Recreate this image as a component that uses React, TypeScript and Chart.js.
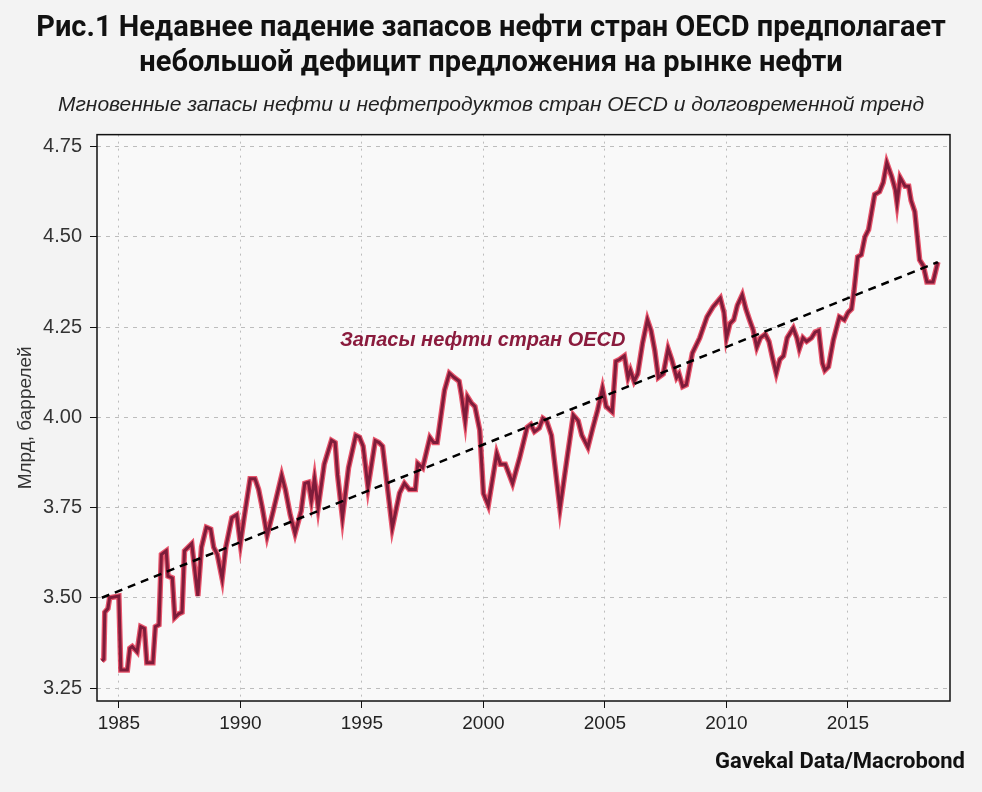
import React, { useEffect, useRef } from "react";
import { Chart, registerables } from "chart.js";

Chart.register(...registerables);

const titleLines = [
  "Рис.1 Недавнее падение запасов нефти стран OECD предполагает",
  "небольшой дефицит предложения на рынке нефти",
];
const subtitleText =
  "Мгновенные запасы нефти и нефтепродуктов стран OECD и долговременной тренд";
const yAxisTitle = "Млрд, баррелей";
const seriesLabel = "Запасы нефти стран OECD";
const sourceText = "Gavekal Data/Macrobond";

// OECD commercial oil stocks, bn barrels
const years = [
  1984.3, 1984.38, 1984.42, 1984.55, 1984.62, 1985.0, 1985.08, 1985.35, 1985.45, 1985.55,
  1985.75, 1985.9, 1986.05, 1986.15, 1986.4, 1986.5, 1986.65, 1986.75, 1986.95, 1987.02,
  1987.2, 1987.3, 1987.45, 1987.6, 1987.7, 1988.0, 1988.1, 1988.25, 1988.4, 1988.6,
  1988.78, 1988.9, 1989.05, 1989.25, 1989.4, 1989.65, 1989.85, 1990.0, 1990.15, 1990.4,
  1990.6, 1990.75, 1990.9, 1991.1, 1991.35, 1991.7, 1991.85, 1992.05, 1992.25, 1992.5,
  1992.65, 1992.8, 1992.92, 1993.05, 1993.2, 1993.45, 1993.75, 1993.9, 1994.0, 1994.2,
  1994.45, 1994.75, 1994.9, 1995.05, 1995.25, 1995.55, 1995.7, 1995.85, 1996.25, 1996.55,
  1996.75, 1996.95, 1997.2, 1997.3, 1997.5, 1997.8, 1997.95, 1998.1, 1998.4, 1998.6,
  1998.8, 1999.0, 1999.1, 1999.25, 1999.35, 1999.5, 1999.65, 1999.85, 2000.0, 2000.2,
  2000.55, 2000.7, 2000.9, 2001.2, 2001.5, 2001.8, 2001.95, 2002.1, 2002.3, 2002.45,
  2002.6, 2002.8, 2003.15, 2003.45, 2003.7, 2003.9, 2004.05, 2004.3, 2004.5, 2004.7,
  2004.9, 2005.05, 2005.3, 2005.45, 2005.6, 2005.8, 2005.95, 2006.05, 2006.2, 2006.35,
  2006.55, 2006.75, 2006.9, 2007.05, 2007.2, 2007.4, 2007.6, 2007.75, 2007.95, 2008.05,
  2008.2, 2008.35, 2008.6, 2008.9, 2009.2, 2009.45, 2009.75, 2009.9, 2010.0, 2010.15,
  2010.3, 2010.45, 2010.65, 2010.8, 2010.95, 2011.1, 2011.25, 2011.4, 2011.6, 2011.75,
  2011.9, 2012.05, 2012.2, 2012.35, 2012.5, 2012.75, 2012.9, 2013.0, 2013.15, 2013.3,
  2013.5, 2013.65, 2013.8, 2013.95, 2014.05, 2014.2, 2014.4, 2014.65, 2014.85, 2015.0,
  2015.15, 2015.25, 2015.4, 2015.55, 2015.7, 2015.85, 2016.1, 2016.3, 2016.45, 2016.6,
  2016.8, 2016.95, 2017.02, 2017.15, 2017.35, 2017.5, 2017.6, 2017.75, 2017.95, 2018.1,
  2018.25, 2018.5, 2018.7,
];
const stocks = [
  3.325, 3.33, 3.46, 3.47, 3.5, 3.505, 3.3, 3.3, 3.36, 3.365,
  3.35, 3.42, 3.415, 3.32, 3.32, 3.42, 3.425, 3.62, 3.63, 3.56,
  3.555, 3.445, 3.455, 3.46, 3.63, 3.65, 3.59, 3.505, 3.64, 3.695,
  3.69, 3.64, 3.62, 3.553, 3.64, 3.722, 3.73, 3.65, 3.72, 3.83,
  3.83, 3.8, 3.75, 3.672, 3.74, 3.839, 3.8, 3.73, 3.678, 3.74,
  3.817, 3.82, 3.77, 3.83, 3.75, 3.87, 3.936, 3.93, 3.84, 3.722,
  3.86, 3.95, 3.945, 3.92, 3.806, 3.935, 3.93, 3.92, 3.694, 3.79,
  3.817, 3.8, 3.8, 3.872, 3.86, 3.944, 3.93, 3.93, 4.075, 4.122,
  4.11, 4.1, 4.06, 3.99, 4.056, 4.04, 4.03, 3.964, 3.789, 3.756,
  3.9, 3.87, 3.87, 3.817, 3.89, 3.972, 3.98, 3.96, 3.97, 3.997,
  3.99, 3.95, 3.747, 3.89, 4.006, 3.99, 3.95, 3.917, 3.97, 4.02,
  4.08, 4.03, 4.015, 4.155, 4.16, 4.17, 4.11, 4.13, 4.1, 4.12,
  4.206, 4.27, 4.24, 4.186, 4.11, 4.12, 4.19, 4.16, 4.11, 4.12,
  4.085, 4.09, 4.178, 4.22, 4.278, 4.306, 4.33, 4.29, 4.22, 4.26,
  4.27, 4.31, 4.339, 4.3, 4.27, 4.242, 4.194, 4.22, 4.23, 4.21,
  4.164, 4.122, 4.16, 4.17, 4.22, 4.247, 4.22, 4.19, 4.22, 4.21,
  4.22, 4.236, 4.24, 4.15, 4.13, 4.14, 4.214, 4.278, 4.27, 4.29,
  4.3, 4.35, 4.444, 4.45, 4.5, 4.52, 4.617, 4.625, 4.65, 4.705,
  4.667, 4.63, 4.594, 4.664, 4.64, 4.64, 4.6, 4.57, 4.436, 4.42,
  4.375, 4.375, 4.43,
];

// Long-term trend line
const trendYears = [1984.3, 2018.7];
const trendValues = [3.5, 4.43];

const xTickValues = [1985, 1990, 1995, 2000, 2005, 2010, 2015];
const yTickValues = [3.25, 3.5, 3.75, 4.0, 4.25, 4.5, 4.75];

// annotation anchor (data coordinates)
const labelAt = { x: 1994.1, y: 4.214 };

const titleFont = "Roboto, 'Liberation Sans', sans-serif";
const sans = "'Liberation Sans', Arial, sans-serif";

const decorPlugin = {
  id: "decor",
  beforeDraw(chart: any) {
    const { ctx, chartArea: a, width, height } = chart;
    ctx.save();
    ctx.fillStyle = "#f3f3f3";
    ctx.fillRect(0, 0, width, height);
    ctx.fillStyle = "#f9f9f9";
    ctx.fillRect(a.left, a.top, a.right - a.left, a.bottom - a.top);
    ctx.restore();
  },
  afterDraw(chart: any) {
    const { ctx, chartArea: a, scales, width } = chart;
    ctx.save();
    ctx.strokeStyle = "#111";
    ctx.lineWidth = 1.5;
    ctx.strokeRect(a.left, a.top, a.right - a.left, a.bottom - a.top);
    // series annotation
    ctx.fillStyle = "#8a1b3d";
    ctx.font = `italic bold 20px ${sans}`;
    ctx.textAlign = "left";
    ctx.textBaseline = "middle";
    ctx.fillText(seriesLabel, scales.x.getPixelForValue(labelAt.x), scales.y.getPixelForValue(labelAt.y));
    // source
    ctx.fillStyle = "#111";
    ctx.font = `bold 22px ${titleFont}`;
    ctx.textAlign = "right";
    ctx.fillText(sourceText, width - 17, 762);
    ctx.restore();
  },
};

export default function App() {
  const ref = useRef<HTMLCanvasElement | null>(null);

  useEffect(() => {
    if (!ref.current) return;
    const mainData = years.map((x, i) => ({ x, y: stocks[i] }));
    const trendData = trendYears.map((x, i) => ({ x, y: trendValues[i] }));
    const chart = new Chart(ref.current, {
      type: "line",
      data: {
        datasets: [
          {
            label: seriesLabel,
            data: mainData,
            borderColor: "#7e1c3a",
            borderWidth: 3,
            pointRadius: 0,
            tension: 0,
            order: 1,
          },
          {
            label: seriesLabel + " glow",
            data: mainData,
            borderColor: "rgba(225,30,60,0.75)",
            borderWidth: 5.5,
            pointRadius: 0,
            tension: 0,
            order: 2,
          },
          {
            label: "Тренд",
            data: trendData,
            borderColor: "#000",
            borderWidth: 2.5,
            borderDash: [8, 6],
            pointRadius: 0,
            order: 0,
          },
        ],
      },
      options: {
        responsive: false,
        animation: false,
        layout: { padding: { left: 32, right: 32, top: 0, bottom: 0 } },
        plugins: {
          legend: { display: false },
          tooltip: { enabled: false },
          title: {
            display: true,
            text: titleLines,
            color: "#111",
            font: { family: titleFont, size: 29, weight: "bold", lineHeight: 1.18 },
            padding: { top: 12, bottom: 0 },
          },
          subtitle: {
            display: true,
            text: subtitleText,
            color: "#222",
            font: { family: sans, size: 21, style: "italic", lineHeight: 1.2 },
            padding: { top: 12, bottom: 17 },
          },
        },
        scales: {
          x: {
            type: "linear",
            min: 1984.1,
            max: 2019.2,
            afterBuildTicks: (scale: any) => {
              scale.ticks = xTickValues.map((v) => ({ value: v }));
            },
            afterFit: (scale: any) => {
              scale.height = 91;
            },
            ticks: {
              color: "#222",
              font: { family: sans, size: 19 },
              padding: 4,
              maxRotation: 0,
              autoSkip: false,
              callback: (v: any) => String(v),
            },
            grid: {
              color: "#bdbdbd",
              lineWidth: 1,
              tickLength: 7,
              tickColor: "#111",
              tickBorderDash: [],
            },
            border: { display: false, dash: [2, 5] },
          },
          y: {
            type: "linear",
            min: 3.214,
            max: 4.783,
            afterBuildTicks: (scale: any) => {
              scale.ticks = yTickValues.map((v) => ({ value: v }));
            },
            afterFit: (scale: any) => {
              scale.width = 65;
            },
            ticks: {
              color: "#333",
              font: { family: sans, size: 20 },
              padding: 8,
              callback: (v: any) => Number(v).toFixed(2),
            },
            grid: {
              color: "#bdbdbd",
              lineWidth: 1,
              tickLength: 7,
              tickColor: "#111",
              tickBorderDash: [],
            },
            border: { display: false, dash: [4, 5] },
            title: {
              display: true,
              text: yAxisTitle,
              color: "#333",
              font: { family: sans, size: 19 },
              padding: { top: -18, bottom: 0 },
            },
          },
        },
      },
      plugins: [decorPlugin],
    } as any);
    return () => chart.destroy();
  }, []);

  return (
    <div style={{ position: "absolute", left: 0, top: 0, width: 982, height: 792 }}>
      <canvas ref={ref} width={982} height={792} />
    </div>
  );
}
